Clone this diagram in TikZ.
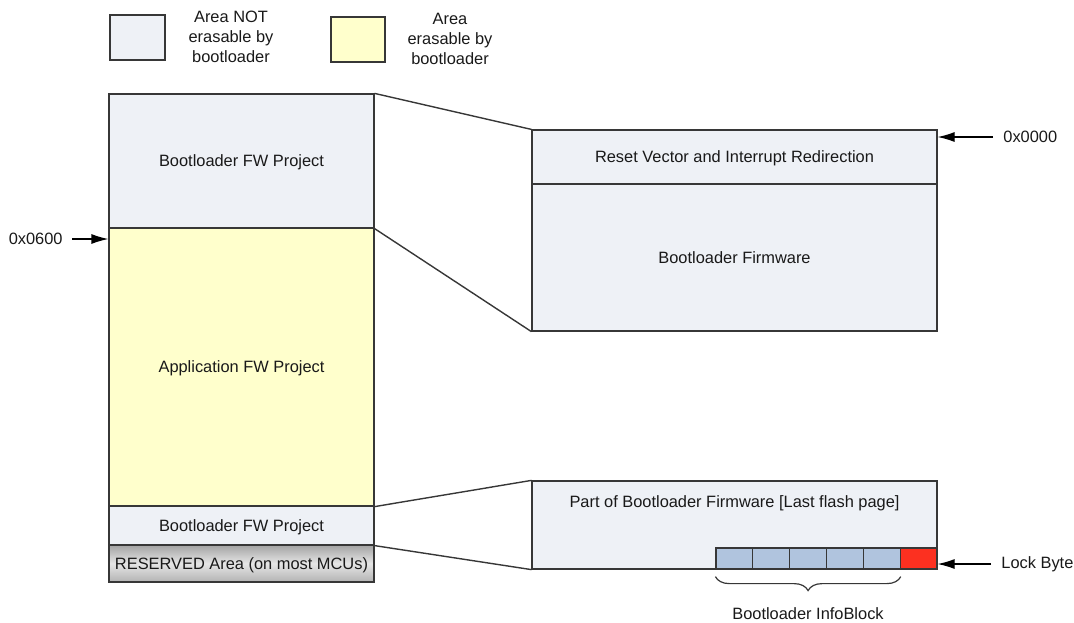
\documentclass[tikz,border=0pt]{standalone}
\usepackage{fontspec}
\setmainfont{Liberation Sans}
\usetikzlibrary{arrows.meta,decorations.pathreplacing}
\definecolor{ne}{RGB}{238,241,246}
\definecolor{er}{RGB}{255,255,204}
\definecolor{cellc}{RGB}{176,196,222}
\definecolor{lockc}{RGB}{252,48,32}
\definecolor{edgec}{RGB}{55,55,55}
\definecolor{txtc}{RGB}{25,25,25}
\begin{document}
\begin{tikzpicture}[x=0.5pt,y=-0.5pt,
  font=\fontsize{8.2}{10}\selectfont, text=txtc,
  area/.style={draw=edgec, line width=0.6pt, inner sep=0pt, minimum width=#1, text depth=0pt},
  neb/.style={area=#1, fill=ne},
  erb/.style={area=#1, fill=er},
  conn/.style={draw=edgec, line width=0.7pt},
  arr/.style={draw=black, line width=0.6pt, -{Latex[length=8.5pt,width=5pt]}},
  lbl/.style={align=center, inner sep=0pt}]
\useasboundingbox (0,0) rectangle (1074,622);

% legend
\node[neb=27.5pt, minimum height=22.5pt] (leg1) at (137.5,37.5) {};
\node[lbl] (leg1t) at (231,37) {Area NOT\\erasable by\\bootloader};
\node[erb=27pt, minimum height=22.5pt] (leg2) at (358,39.5) {};
\node[lbl] (leg2t) at (450,39) {Area\\erasable by\\bootloader};

% left column
\node[neb=132.5pt, minimum height=67pt] (blA) at (241.5,161) {Bootloader FW Project};
\node[erb=132.5pt, minimum height=139pt] (app) at (241.5,367) {Application FW Project};
\node[neb=132.5pt, minimum height=19.5pt] (blB) at (241.5,525.5) {Bootloader FW Project};
\node[area=132.5pt, minimum height=18.5pt, top color=black!36, bottom color=black!30, middle color=black!10] (res) at (241.5,563.5) {RESERVED Area (on most MCUs)};

% right top
\node[neb=202.5pt, minimum height=27pt] (reset) at (734.5,157) {Reset Vector and Interrupt Redirection};
\node[neb=202.5pt, minimum height=73.5pt] (blfw) at (734.5,257.5) {Bootloader Firmware};

% right bottom
\node[neb=202.5pt, minimum height=44pt] (last) at (734.5,525) {};
\node[lbl] (lastt) at (734.5,503) {Part of Bootloader Firmware [Last flash page]};
\foreach \i in {1,...,5}{
  \node[area=18.42pt, minimum height=10.5pt, fill=cellc] (c\i) at ({716+18.42+36.83*(\i-1)},558.5) {};
}
\node[area=18.42pt, minimum height=10.5pt, fill=lockc] (c6) at ({716+18.42+36.83*5},558.5) {};

% connectors
\draw[conn] (blA.north east) -- (reset.north west);
\draw[conn] (blA.south east) -- (blfw.south west);
\draw[conn] (app.south east) -- (last.north west);
\draw[conn] (blB.south east) -- (last.south west);

% address arrows
\coordinate (a0) at (993,137);
\draw[arr] (a0) -- (a0 -| reset.east);
\node[anchor=west, inner sep=0pt] (l0) at (1003,137) {0x0000};

\coordinate (a6) at (72,239);
\draw[arr] (a6) -- (a6 -| app.west);
\node[anchor=east, inner sep=0pt] (l6) at (63,239) {0x0600};

\coordinate (al) at (991,564);
\draw[arr] (al) -- (al -| c6.east);
\node[anchor=west, inner sep=0pt] (ll) at (1001,564) {Lock Byte};

% brace
\coordinate (b1) at ([yshift=-3.5pt]c1.south west);
\coordinate (b2) at ([yshift=-3.5pt]c5.south east);
\draw[edgec, line width=0.6pt, decorate, decoration={brace, mirror, amplitude=7pt}] (b1) -- (b2);
\node[lbl] (ib) at (808,614) {Bootloader InfoBlock};
\end{tikzpicture}
\end{document}
